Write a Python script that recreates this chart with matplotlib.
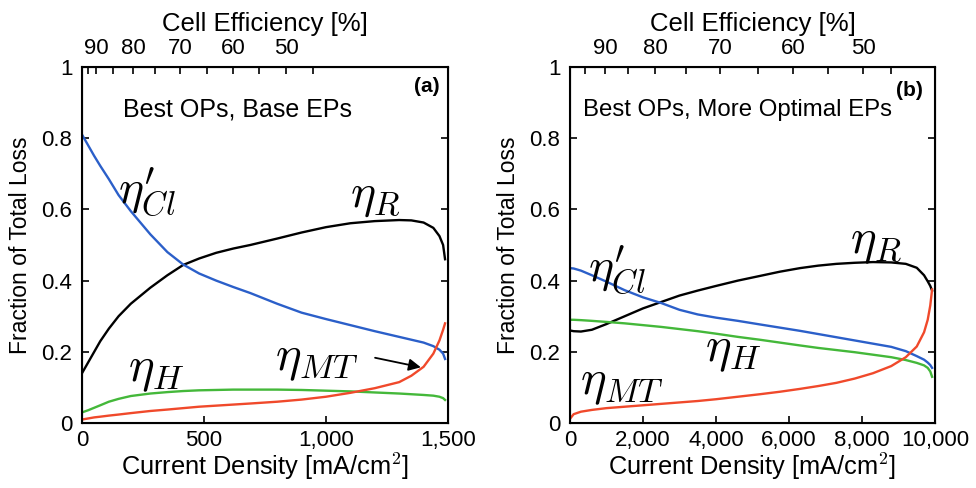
import matplotlib.pyplot as plt
import numpy as np

plt.rcParams['font.family'] = ['Liberation Sans', 'DejaVu Sans']
plt.rcParams['mathtext.fontset'] = 'cm'

# panel (a): best OPs, base EPs
xa = [0, 25, 50, 75, 110, 150, 200, 280, 350, 415, 480, 550, 620, 690, 800, 900,
      1000, 1100, 1200, 1300, 1350, 1400, 1440, 1465, 1480, 1488]
cl_a = [0.81, 0.78, 0.75, 0.722, 0.685, 0.64, 0.595, 0.53, 0.48, 0.445, 0.42, 0.40,
        0.382, 0.365, 0.335, 0.31, 0.292, 0.275, 0.258, 0.242, 0.234, 0.226, 0.216,
        0.206, 0.195, 0.18]
r_a = [0.14, 0.17, 0.2, 0.23, 0.265, 0.30, 0.335, 0.38, 0.415, 0.444, 0.462, 0.478,
       0.49, 0.50, 0.518, 0.535, 0.55, 0.561, 0.567, 0.57, 0.569, 0.563, 0.548,
       0.525, 0.5, 0.46]
h_a = [0.03, 0.036, 0.043, 0.05, 0.06, 0.068, 0.076, 0.083, 0.087, 0.09, 0.092,
       0.093, 0.094, 0.094, 0.094, 0.093, 0.091, 0.089, 0.086, 0.083, 0.081, 0.079,
       0.077, 0.074, 0.07, 0.065]
mt_a = [0.01, 0.013, 0.016, 0.018, 0.021, 0.024, 0.028, 0.034, 0.038, 0.042, 0.046,
        0.049, 0.052, 0.055, 0.06, 0.066, 0.074, 0.085, 0.098, 0.115, 0.133, 0.158,
        0.195, 0.232, 0.262, 0.28]

# panel (b): best OPs, more optimal EPs
xb = [0, 100, 300, 600, 1000, 1500, 2000, 2500, 3000, 3500, 4000, 4600, 5200, 5750,
      6300, 6800, 7300, 7800, 8300, 8800, 9200, 9500, 9700, 9800, 9870, 9920]
cl_b = [0.435, 0.434, 0.428, 0.415, 0.397, 0.373, 0.353, 0.337, 0.318, 0.305, 0.296,
        0.287, 0.277, 0.268, 0.259, 0.25, 0.241, 0.232, 0.223, 0.214, 0.202, 0.188,
        0.178, 0.17, 0.163, 0.155]
r_b = [0.26, 0.258, 0.257, 0.262, 0.278, 0.3, 0.322, 0.34, 0.358, 0.372, 0.385, 0.4,
       0.413, 0.425, 0.435, 0.442, 0.447, 0.45, 0.452, 0.451, 0.447, 0.436, 0.415,
       0.398, 0.385, 0.372]
h_b = [0.29, 0.29, 0.289, 0.287, 0.284, 0.28, 0.275, 0.27, 0.264, 0.258, 0.251, 0.242,
       0.234, 0.226, 0.218, 0.211, 0.205, 0.199, 0.192, 0.185, 0.177, 0.169, 0.162,
       0.155, 0.145, 0.13]
mt_b = [0.012, 0.025, 0.032, 0.037, 0.042, 0.046, 0.05, 0.054, 0.058, 0.062, 0.067,
        0.074, 0.081, 0.088, 0.096, 0.104, 0.113, 0.125, 0.14, 0.16, 0.185, 0.215,
        0.255, 0.29, 0.33, 0.375]

# top axis: cell efficiency ticks (every 5 %) and where they sit in current density
eff_ticks = [95, 90, 85, 80, 75, 70, 65, 60, 55, 50, 45]
eff_pos_a = [25, 57, 127, 209, 299, 402, 512, 619, 725, 836, 947]
eff_pos_b = [411, 959, 1589, 2329, 3178, 4110, 5151, 6110, 7068, 8027, 8795]

blue = '#2b5fc9'
green = '#44b83a'
red = '#f0492b'

fig = plt.figure(figsize=(9.76, 4.88), dpi=100)
ax_a = fig.add_axes([0.084, 0.133, 0.375, 0.730])
ax_b = fig.add_axes([0.584, 0.133, 0.374, 0.730])


def setup(ax, xmax, xticks, eff_pos):
    ax.set_xlim(0, xmax)
    ax.set_ylim(0, 1)
    ax.set_xticks(xticks)
    ax.set_xticklabels(['{:,}'.format(t) for t in xticks])
    ax.set_yticks([0, 0.2, 0.4, 0.6, 0.8, 1])
    ax.set_yticklabels(['0', '0.2', '0.4', '0.6', '0.8', '1'])
    ax.tick_params(direction='in', length=5, width=1.2, labelsize=16,
                   top=False, right=True)
    ax.tick_params(axis='x', pad=5)
    ax.tick_params(axis='y', pad=7)
    for s in ax.spines.values():
        s.set_linewidth(1.5)
    ax.set_xlabel('Current Density [mA/cm$^2$]', fontsize=18.3, labelpad=0)
    ax.set_ylabel('Fraction of Total Loss', fontsize=16.5, labelpad=7)

    top = ax.twiny()
    top.set_xlim(0, xmax)
    major = [p for p, e in zip(eff_pos, eff_ticks) if e % 10 == 0]
    minor = [p for p, e in zip(eff_pos, eff_ticks) if e % 10 != 0]
    top.set_xticks(major)
    top.set_xticklabels([str(e) for e in eff_ticks if e % 10 == 0])
    top.set_xticks(minor, minor=True)
    top.tick_params(which='both', direction='in', length=5, width=1.2,
                    labelsize=16, pad=6)
    top.set_xlabel('Cell Efficiency [%]', fontsize=18.5, labelpad=5)


setup(ax_a, 1500, [0, 500, 1000, 1500], eff_pos_a)
setup(ax_b, 10000, [0, 2000, 4000, 6000, 8000, 10000], eff_pos_b)

for ax, x, cl, r, h, mt in [(ax_a, xa, cl_a, r_a, h_a, mt_a),
                            (ax_b, xb, cl_b, r_b, h_b, mt_b)]:
    ax.plot(x, r, color='black', lw=1.7)
    ax.plot(x, cl, color=blue, lw=1.7)
    ax.plot(x, h, color=green, lw=1.7)
    ax.plot(x, mt, color=red, lw=1.7)

# panel (a) annotations
ax_a.text(0.112, 0.879, 'Best OPs, Base EPs', transform=ax_a.transAxes,
          fontsize=18, va='center')
ax_a.text(0.978, 0.944, '(a)', transform=ax_a.transAxes, fontsize=15,
          fontweight='bold', ha='right', va='center')
ax_a.text(148, 0.649, r"$\eta_{Cl}'$", fontsize=34, va='center')
ax_a.text(1098, 0.635, r"$\eta_{R}$", fontsize=34, va='center')
ax_a.text(189, 0.145, r"$\eta_{H}$", fontsize=35, va='center')
ax_a.text(791, 0.177, r"$\eta_{MT}$", fontsize=35, va='center')
ax_a.annotate('', xy=(1400, 0.155), xytext=(1190, 0.185),
              arrowprops=dict(arrowstyle='-|>', color='black', lw=1.3,
                              mutation_scale=18))

# panel (b) annotations
ax_b.text(0.036, 0.879, 'Best OPs, More Optimal EPs', transform=ax_b.transAxes,
          fontsize=17.3, va='center')
ax_b.text(0.967, 0.935, '(b)', transform=ax_b.transAxes, fontsize=15,
          fontweight='bold', ha='right', va='center')
ax_b.text(493, 0.43, r"$\eta_{Cl}'$", fontsize=34, va='center')
ax_b.text(7671, 0.505, r"$\eta_{R}$", fontsize=35, va='center')
ax_b.text(3699, 0.2, r"$\eta_{H}$", fontsize=35, va='center')
ax_b.text(274, 0.107, r"$\eta_{MT}$", fontsize=35, va='center')

fig.savefig('out.png', dpi=100, facecolor='white')
